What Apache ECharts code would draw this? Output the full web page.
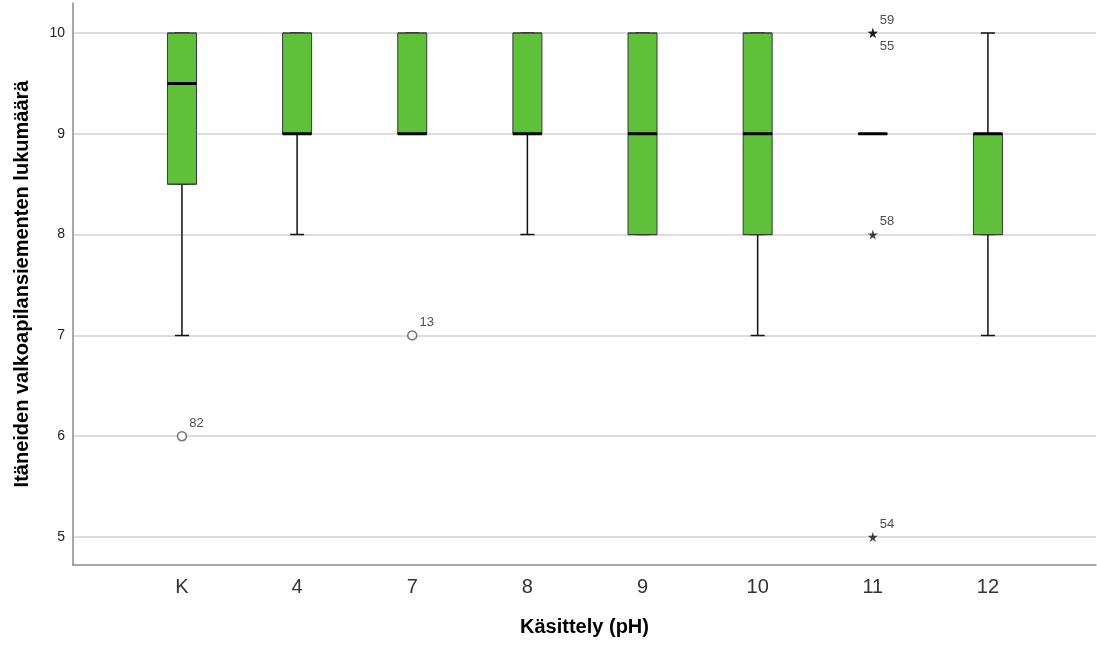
<!DOCTYPE html>
<html><head><meta charset="utf-8">
<script src="https://cdn.jsdelivr.net/npm/echarts@6/dist/echarts.min.js"></script>
<style>html,body{margin:0;padding:0;background:#fff}#c{width:1097px;height:646px}</style>
</head><body><div id="c"></div>
<script>
// ---- data ----
const categories = ['K', '4', '7', '8', '9', '10', '11', '12'];
const whiskerLow  = [7,   8,  9,  8,  8,  7,  9,  7];
const q1          = [8.5, 9,  9,  9,  8,  8,  9,  8];
const medians     = [9.5, 9,  9,  9,  9,  9,  9,  9];
const q3          = [10,  10, 10, 10, 10, 10, 9,  9];
const whiskerHigh = [10,  10, 10, 10, 10, 10, 9,  10];
const yTicks = [5, 6, 7, 8, 9, 10];
// circles (outliers)
const outlierCats   = ['K', '7'];
const outlierValues = [6, 7];
const outlierIds    = ['82', '13'];
// stars (extreme values)
const extremeCats   = ['11', '11', '11', '11'];
const extremeValues = [10, 10, 8, 5];
const extremeIds    = ['59', '55', '58', '54'];
const extremeSide   = ['above', 'below', 'above', 'above'];

const FONT = '"Liberation Sans", Arial, Helvetica, sans-serif';
const yMin = yTicks[0], yMax = yTicks[yTicks.length - 1];

const lowerWhiskerData = categories.map((c, i) => [whiskerLow[i], whiskerLow[i], whiskerLow[i], whiskerLow[i], q1[i]]);
const upperWhiskerData = categories.map((c, i) => [q3[i], whiskerHigh[i], whiskerHigh[i], whiskerHigh[i], whiskerHigh[i]]);
const boxData = categories.map((c, i) => [q1[i], q1[i], medians[i], q3[i], q3[i]]);
const medianData = medians.map(m => [m, m, m, m, m]);

function idLabel(id, side) {
  return {
    show: true, formatter: id, position: 'right',
    offset: side === 'below' ? [-3, 13] : [-3, -13],
    fontFamily: FONT, fontSize: 13, color: '#222'
  };
}
const circleData = outlierCats.map((c, i) => ({ value: [c, outlierValues[i]], label: idLabel(outlierIds[i], 'above') }));
const starData = extremeCats.map((c, i) => ({ value: [c, extremeValues[i]], label: idLabel(extremeIds[i], extremeSide[i]) }));

const hiddenCat = idx => ({
  type: 'category', gridIndex: 2, data: categories, show: false, boundaryGap: true
});

const STAR = 'path://M50,0 L61,35 L98,35 L68,57 L79,91 L50,70 L21,91 L32,57 L2,35 L39,35 Z';

const option = {
  animation: false,
  backgroundColor: '#fff',
  grid: [
    { left: 73, right: 1, top: 3, bottom: 81, outerBoundsMode: 'none', containLabel: false },
    { left: 73, right: 1, top: 33, bottom: 109, outerBoundsMode: 'none', containLabel: false },
    { left: 124.4, width: 921.1, top: 33, bottom: 109, outerBoundsMode: 'none', containLabel: false }
  ],
  xAxis: [
    { type: 'value', gridIndex: 0, min: 0, max: 1,
      axisLine: { show: true, lineStyle: { color: '#8c8c8c', width: 1.5 } },
      axisTick: { show: false }, axisLabel: { show: false }, splitLine: { show: false },
      name: 'Käsittely (pH)', nameLocation: 'middle', nameGap: 52,
      nameTextStyle: { fontFamily: FONT, fontSize: 20, fontWeight: 'bold', color: '#000' } },
    { type: 'value', gridIndex: 1, min: 0, max: 1, show: false },
    { type: 'category', gridIndex: 2, data: categories, boundaryGap: true, position: 'bottom', offset: 28,
      axisLine: { show: false }, axisTick: { show: false }, splitLine: { show: false },
      axisLabel: { fontFamily: FONT, fontSize: 20, color: '#333', margin: 12 } },
    hiddenCat(3), hiddenCat(4), hiddenCat(5)
  ],
  yAxis: [
    { type: 'value', gridIndex: 0, min: 0, max: 1,
      axisLine: { show: true, lineStyle: { color: '#8c8c8c', width: 1.5 } },
      axisTick: { show: false }, axisLabel: { show: false }, splitLine: { show: false },
      name: 'Itäneiden valkoapilansiementen lukumäärä', nameLocation: 'middle', nameGap: 41, nameRotate: 90,
      nameTextStyle: { fontFamily: FONT, fontSize: 20, fontWeight: 'bold', color: '#000' } },
    { type: 'value', gridIndex: 1, min: yMin, max: yMax, interval: 1,
      axisLine: { show: false }, axisTick: { show: false },
      axisLabel: { fontFamily: FONT, fontSize: 14, color: '#222', margin: 8 },
      splitLine: { show: true, lineStyle: { color: '#d2d2d2', width: 1.5 } } },
    { type: 'value', gridIndex: 2, min: yMin, max: yMax, show: false, splitLine: { show: false } }
  ],
  series: [
    { type: 'boxplot', name: 'lower whisker', xAxisIndex: 3, yAxisIndex: 2, data: lowerWhiskerData,
      boxWidth: [14, 14], silent: true,
      itemStyle: { color: 'transparent', borderColor: '#111', borderWidth: 1.5 } },
    { type: 'boxplot', name: 'upper whisker', xAxisIndex: 4, yAxisIndex: 2, data: upperWhiskerData,
      boxWidth: [14, 14], silent: true,
      itemStyle: { color: 'transparent', borderColor: '#111', borderWidth: 1.5 } },
    { type: 'boxplot', name: 'box', xAxisIndex: 2, yAxisIndex: 2, data: boxData,
      boxWidth: [29, 29], silent: true,
      itemStyle: { color: '#5fc13a', borderColor: '#3a3a3a', borderWidth: 1 } },
    { type: 'boxplot', name: 'median', xAxisIndex: 5, yAxisIndex: 2, data: medianData,
      boxWidth: [29, 29], silent: true,
      itemStyle: { color: 'transparent', borderColor: '#000', borderWidth: 3 } },
    { type: 'scatter', name: 'outliers', xAxisIndex: 2, yAxisIndex: 2, data: circleData,
      symbol: 'circle', symbolSize: 9, silent: true,
      itemStyle: { color: '#fff', borderColor: '#555', borderWidth: 1.5 } },
    { type: 'scatter', name: 'extremes', xAxisIndex: 2, yAxisIndex: 2, data: starData,
      symbol: STAR, symbolSize: 10, silent: true,
      itemStyle: { color: '#111' } }
  ]
};
const chart = echarts.init(document.getElementById('c'));
chart.setOption(option);
</script>
</body></html>
